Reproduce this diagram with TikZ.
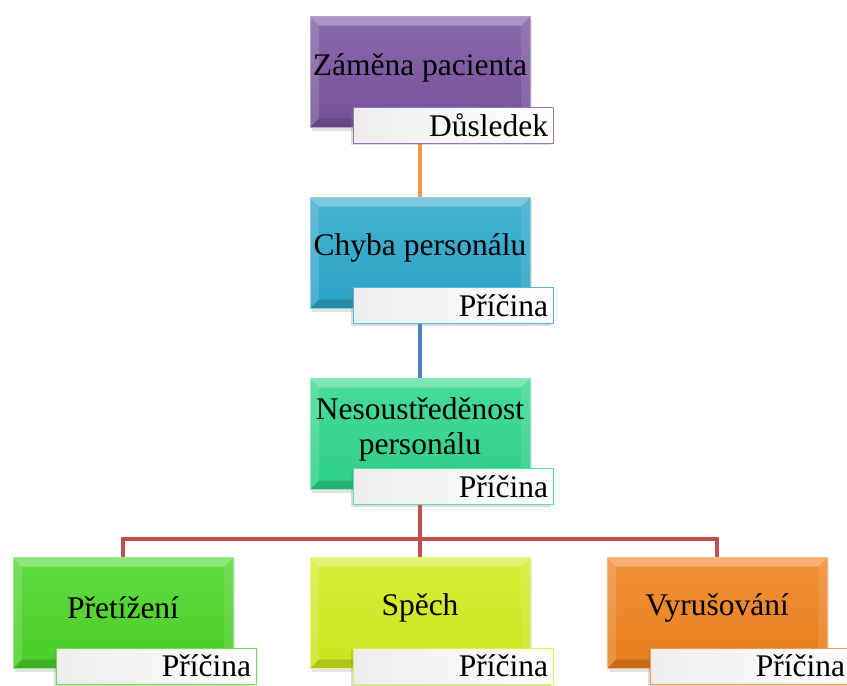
\documentclass[tikz,border=0pt]{standalone}
\usepackage{fontspec}
\setmainfont{Liberation Serif}
\usetikzlibrary{backgrounds,shadows}

\definecolor{cPurple}{RGB}{122,84,160}
\definecolor{cBlue}{RGB}{44,168,204}
\definecolor{cTeal}{RGB}{46,215,140}
\definecolor{cLime}{RGB}{76,214,40}
\definecolor{cYellow}{RGB}{210,238,30}
\definecolor{cOrange}{RGB}{240,130,30}
\definecolor{lnOrange}{RGB}{247,150,70}
\definecolor{lnBlue}{RGB}{79,129,189}
\definecolor{lnRed}{RGB}{192,80,77}

\tikzset{
  bevelbox/.style={
    minimum width=220pt, minimum height=111pt, inner sep=0pt,
    top color=#1!88!white, bottom color=#1!96!black,
    draw=#1!55!white, line width=0.8pt,
    drop shadow={opacity=0.22, shadow xshift=2pt, shadow yshift=-3pt},
    path picture={
      \fill[white,opacity=0.30]
        (path picture bounding box.north west) -- (path picture bounding box.north east)
        -- ([shift={(-9pt,-9pt)}]path picture bounding box.north east)
        -- ([shift={(9pt,-9pt)}]path picture bounding box.north west) -- cycle;
      \fill[white,opacity=0.15]
        (path picture bounding box.north west) -- (path picture bounding box.south west)
        -- ([shift={(9pt,9pt)}]path picture bounding box.south west)
        -- ([shift={(9pt,-9pt)}]path picture bounding box.north west) -- cycle;
      \fill[black,opacity=0.14]
        (path picture bounding box.south west) -- (path picture bounding box.south east)
        -- ([shift={(-9pt,9pt)}]path picture bounding box.south east)
        -- ([shift={(9pt,9pt)}]path picture bounding box.south west) -- cycle;
      \fill[white,opacity=0.10]
        (path picture bounding box.north east) -- (path picture bounding box.south east)
        -- ([shift={(-9pt,9pt)}]path picture bounding box.south east)
        -- ([shift={(-9pt,-9pt)}]path picture bounding box.north east) -- cycle;
    }},
  tagbox/.style={
    minimum width=200pt, minimum height=36pt, text width=190pt,
    inner xsep=5pt, inner ysep=0pt, align=right,
    left color=gray!14, right color=white,
    draw=#1!80!white, line width=0.9pt,
    drop shadow={opacity=0.28, shadow xshift=-2pt, shadow yshift=-2pt}},
  boxtext/.style={align=center, inner sep=0pt},
  conn/.style={line width=4pt}
}

\begin{document}
\begin{tikzpicture}[x=1pt,y=-1pt,
  every node/.style={font=\fontsize{31.5}{35}\selectfont}]
\useasboundingbox (0,0) rectangle (847,686);

% effect chain
\node[bevelbox=cPurple] (b1) at (420,72) {};
\node[boxtext] (t1) at ([yshift=4pt]b1.center) {Záměna pacienta};
\node[tagbox=cPurple] (l1) at (453,125) {Důsledek};

\node[bevelbox=cBlue] (b2) at (420,253) {};
\node[boxtext] (t2) at ([yshift=5pt]b2.center) {Chyba personálu};
\node[tagbox=cBlue] (l2) at (453,305.5) {Příčina};

\node[bevelbox=cTeal] (b3) at (420,434) {};
\node[boxtext] (t3) at ([yshift=5pt]b3.center) {Nesoustředěnost\\personálu};
\node[tagbox=cTeal] (l3) at (453,486.5) {Příčina};

% causes
\node[bevelbox=cLime] (b4) at (123,613) {};
\node[boxtext] (t4) at ([yshift=5pt]b4.center) {Přetížení};
\node[tagbox=cLime] (l4) at (156,666) {Příčina};

\node[bevelbox=cYellow] (b5) at (420,613) {};
\node[boxtext] (t5) at ([yshift=5pt]b5.center) {Spěch};
\node[tagbox=cYellow] (l5) at (453,666) {Příčina};

\node[bevelbox=cOrange] (b6) at (717,613) {};
\node[boxtext] (t6) at ([yshift=5pt]b6.center) {Vyrušování};
\node[tagbox=cOrange] (l6) at (750,666) {Příčina};

% connectors behind the boxes
\begin{scope}[on background layer]
  \draw[conn, lnOrange] (b1.south) -- (b2.north);
  \draw[conn, lnBlue] (b2.south) -- (b3.north);
  \draw[conn, lnRed] (b3.south) -- (b5.north);
  \draw[conn, lnRed] (b4.north) -- ++(0,-18) -| (b6.north);
\end{scope}
\end{tikzpicture}
\end{document}
